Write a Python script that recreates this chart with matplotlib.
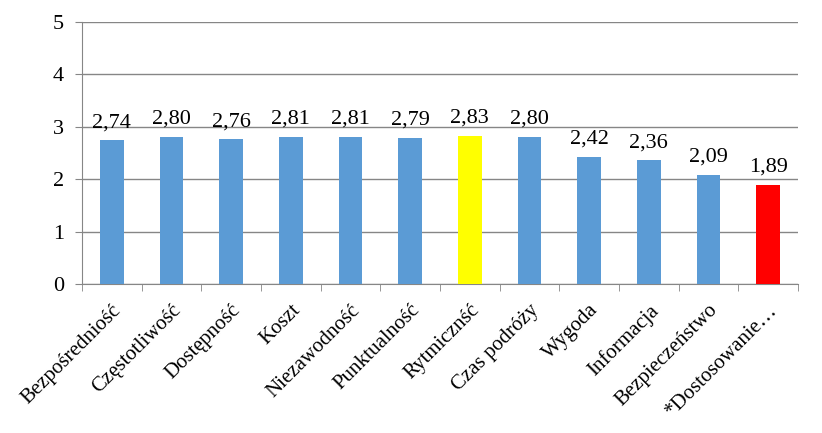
import numpy as np
import matplotlib.pyplot as plt

categories = ['Bezpośredniość', 'Częstotliwość', 'Dostępność', 'Koszt', 'Niezawodność',
              'Punktualność', 'Rytmicznść', 'Czas podróży', 'Wygoda', 'Informacja',
              'Bezpieczeństwo', '*Dostosowanie…']
values = [2.74, 2.80, 2.76, 2.81, 2.81, 2.79, 2.83, 2.80, 2.42, 2.36, 2.09, 1.89]
colors = ['#5b9bd5'] * 6 + ['#ffff00'] + ['#5b9bd5'] * 4 + ['#ff0000']

plt.rcParams['font.family'] = ['Liberation Serif', 'DejaVu Serif']

fig = plt.figure(figsize=(8.22, 4.33), dpi=100)
ax = fig.add_axes([0.0998, 0.344, 0.871, 0.605])

x = np.arange(len(categories))
ax.bar(x, values, width=0.4, color=colors, zorder=3)
for xi, v in zip(x, values):
    ax.annotate(f'{v:.2f}'.replace('.', ','), (xi, v), xytext=(0, 6), textcoords='offset points',
                ha='center', va='bottom', fontsize=16)

ax.set_xlim(-0.5, len(categories) - 0.5)
ax.set_ylim(0, 5)
ax.set_yticks(range(6))
ax.yaxis.grid(True, color='#868686', linewidth=1, zorder=0)
ax.tick_params(axis='y', labelsize=16, length=5, color='#868686', pad=8)

ax.set_xticks(x)
ax.set_xticklabels(categories, rotation=45, ha='right', rotation_mode='anchor', fontsize=15)
ax.tick_params(axis='x', which='major', length=0, pad=12)
ax.set_xticks(np.arange(-0.5, len(categories)), minor=True)
ax.tick_params(axis='x', which='minor', length=5, color='#868686')

for s in ['top', 'right']:
    ax.spines[s].set_visible(False)
for s in ['left', 'bottom']:
    ax.spines[s].set_color('#868686')

fig.savefig('out.png', dpi=100)
